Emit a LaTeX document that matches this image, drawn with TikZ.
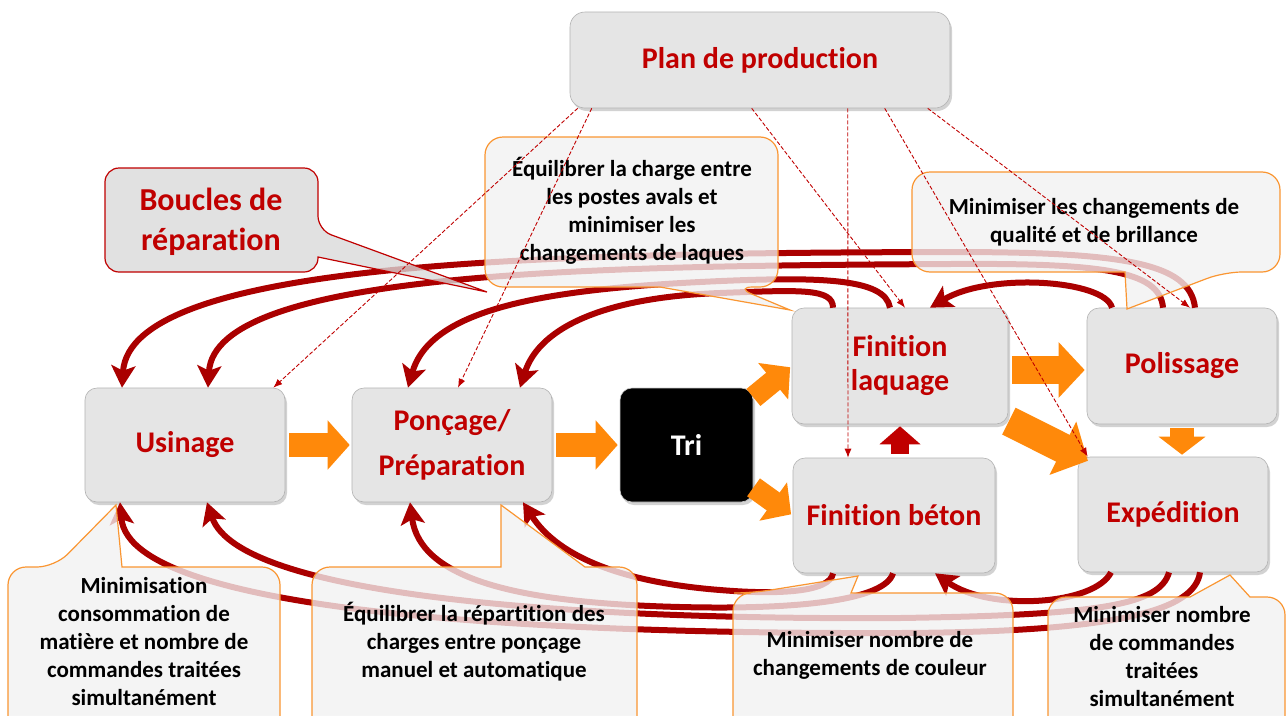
\documentclass[tikz,border=0pt]{standalone}
\usepackage{fontspec}
\setmainfont{Carlito}[Ligatures=NoCommon]
\usetikzlibrary{arrows.meta,calc,shadows}
\definecolor{boxred}{RGB}{192,0,0}
\definecolor{repairred}{RGB}{170,0,0}
\definecolor{fatorange}{RGB}{255,137,10}
\definecolor{boxgray}{RGB}{229,229,229}
\definecolor{notegray}{RGB}{242,242,242}
\definecolor{noteline}{RGB}{250,150,50}
\definecolor{tagfill}{RGB}{217,217,217}
\begin{document}
\begin{tikzpicture}[x=1pt,y=-1pt]
	\tikzstyle{stage}=[rounded corners=12pt, fill=boxgray, draw=gray!60, line width=0.6pt,
		drop shadow={opacity=0.35, shadow xshift=2pt, shadow yshift=-3pt},
		text=boxred, font=\fontsize{30}{34}\selectfont\bfseries, align=center, inner sep=0pt,
		minimum width=200pt, minimum height=114pt]
	\tikzstyle{fat}=[draw=fatorange, line width=24pt, -{Triangle[length=22pt,width=48pt]}, shorten <=4pt, shorten >=2pt]
	\tikzstyle{repair}=[draw=repairred, line width=6pt, -{Stealth[length=22pt,width=24pt,inset=5pt]}]
	\tikzstyle{planarrow}=[draw=boxred, dash pattern=on 4pt off 2pt, line width=0.9pt, -{Latex[length=9pt,width=7pt]}]
	\tikzstyle{note}=[fill=notegray, fill opacity=0.78, draw=noteline, line width=1.2pt]
	\tikzstyle{notetext}=[align=center, font=\fontsize{23}{28}\selectfont\bfseries, inner sep=0pt]
	\useasboundingbox (0,0) rectangle (1287,715);
	\clip (0,0) rectangle (1287,715);
	\fill[white] (0,0) rectangle (1287,715);

	% postes
	\node[stage, minimum width=380pt, minimum height=96pt, rounded corners=15pt] (plan) at (760,60) {Plan de production};
	\node[stage] (us) at (185,445) {Usinage};
	\node[stage] (po) at (452,445) {Ponçage/\\[11pt]Préparation};
	\node[stage, fill=black, draw=gray!40, text=white, minimum width=133pt] (tri) at (686.5,445) {Tri};
	\node[stage, minimum width=216pt, minimum height=116pt] (fl) at (900,366) {Finition\\laquage};
	\node[stage, minimum width=202pt, minimum height=115pt] (fb) at (894,515.5) {Finition béton};
	\node[stage, minimum width=190pt, minimum height=116pt] (pol) at (1182,366) {Polissage};
	\node[stage, minimum width=190pt, minimum height=115pt] (exp) at (1173,514.5) {Expédition};

	% flux
	\draw[fat] (us.east) -- (po.west);
	\draw[fat] (po.west -| po.east) -- (tri.west);
	\draw[fat, line width=22pt, -{Triangle[length=22pt,width=46pt]}] ($(tri.east)+(-3,-45)$) -- (fl.west);
	\draw[fat, line width=22pt, -{Triangle[length=22pt,width=46pt]}] ($(tri.east)+(-3,40)$) -- (fb.west);
	\draw[fat, line width=28pt, -{Triangle[length=26pt,width=54pt]}] ($(fl.east)+(0,4)$) -- ($(pol.west)+(0,4)$);
	\draw[fat, line width=30pt, -{Triangle[length=28pt,width=58pt]}] ($(fl.south east)+(-3,-5)$) -- ($(exp.north west)+(12,5)$);
	\draw[fat, line width=24pt, -{Triangle[length=18pt,width=46pt]}] (pol.south) -- ($(exp.north)+(9,0)$);
	\draw[fat, draw=boxred, line width=18pt, -{Triangle[length=18pt,width=40pt]}] ($(fb.north)+(6,0)$) -- (fl.south);

	% boucles de reparation
	\draw[repair] ($(fl.north)+(-67,0)$) .. controls (833,288) and (800,290) .. (720,293)
		.. controls (610,297) and (540,325) .. ($(po.north)+(68,0)$);
	\draw[repair] ($(fl.north)+(-10,0)$) .. controls (885,278) and (820,276) .. (700,282)
		.. controls (540,290) and (430,310) .. ($(po.north)+(-44,0)$);
	\draw[repair] ($(pol.north)+(-70,0)$) .. controls (1105,280) and (990,272) .. ($(fl.north)+(30,0)$);
	\draw[repair] ($(pol.north)+(-19,0)$) .. controls (1160,270) and (1100,263) .. (950,264)
		.. controls (600,266) and (215,270) .. ($(us.north)+(23,0)$);
	\draw[repair] ($(pol.north)+(13,0)$) .. controls (1190,262) and (1120,252) .. (950,252)
		.. controls (550,253) and (130,260) .. ($(us.north)+(-63,0)$);
	\draw[repair] ($(fb.south)+(-1,0)$) .. controls (885,600) and (800,610) .. (680,607)
		.. controls (520,603) and (420,580) .. ($(po.south)+(-42,0)$);
	\draw[repair] ($(fb.south)+(-61,0)$) .. controls (830,592) and (780,595) .. (720,590)
		.. controls (630,583) and (560,560) .. ($(po.south)+(71,0)$);
	\draw[repair] ($(exp.south)+(-62,0)$) .. controls (1095,605) and (990,612) .. ($(fb.south)+(41,0)$);
	\draw[repair] ($(exp.south)+(-4,0)$) .. controls (1160,605) and (1100,615) .. (900,618)
		.. controls (600,620) and (240,600) .. ($(us.south)+(22,0)$);
	\draw[repair] ($(exp.south)+(27,0)$) .. controls (1195,610) and (1120,632) .. (900,633)
		.. controls (600,634) and (130,620) .. ($(us.south)+(-65,0)$);

	% bulles
	\path[note] (630,137) [rounded corners=18pt] -- (778,137) -- (778,287) -- (735,287) [sharp corners] -- (790,310)
		-- (660,287) [rounded corners=18pt] -- (485,287) -- (485,137) -- cycle;
	\path[note] (1096,172) [rounded corners=18pt] -- (1280,172) -- (1280,272) -- (1224,272) [sharp corners] -- (1127,309)
		-- (1125,272) [rounded corners=18pt] -- (912,272) -- (912,172) -- cycle;
	\path[note, fill=tagfill, draw=boxred] (211,168) [rounded corners=14pt] -- (318,168) -- (318,230) [sharp corners] -- (487,292)
		-- (318,257) [rounded corners=14pt] -- (318,272) -- (105,272) -- (105,168) -- cycle;
	\path[note] (144,567) [rounded corners=18pt] -- (280,567) -- (280,740) -- (8,740) -- (8,567) -- (55,567) [sharp corners]
		-- (116,505) -- (122,567) -- cycle;
	\path[note] (400,567) -- (501,567) [sharp corners] -- (501,505) -- (585,567) [rounded corners=18pt] -- (637,567)
		-- (637,740) -- (312,740) -- (312,567) -- cycle;
	\path[note] (930,593) [rounded corners=18pt] -- (1013,593) -- (1013,740) -- (733,740) -- (733,593) -- (752,593) [sharp corners]
		-- (858,576) -- (851,593) -- cycle;
	\path[note] (1100,597) -- (1190,597) [sharp corners] -- (1230,575) -- (1250,597) [rounded corners=18pt] -- (1285,597)
		-- (1285,740) -- (1048,740) -- (1048,597) -- cycle;

	\node[notetext] (tT) at (632,211) {Équilibrer la charge entre\\les postes avals et\\minimiser les\\changements de laques};
	\node[notetext] (tR) at (1094,222) {Minimiser les changements de\\qualité et de brillance};
	\node[notetext, text=boxred, font=\fontsize{32}{40}\selectfont\bfseries] (tB) at (211,222) {Boucles de\\réparation};
	\node[notetext] (tL) at (144,642) {Minimisation\\consommation de\\matière et nombre de\\commandes traitées\\simultanément};
	\node[notetext] (tM) at (474,642) {Équilibrer la répartition des\\charges entre ponçage\\manuel et automatique};
	\node[notetext] (tF) at (870,655) {Minimiser nombre de\\changements de couleur};
	\node[notetext] (tE) at (1162,657) {Minimiser nombre\\de commandes\\traitées\\simultanément};

	% plan de production
	\draw[planarrow] ($(plan.south west)+(8,0)$) -- ($(us.north east)+(-12,0)$);
	\draw[planarrow] ($(plan.south west)+(22,0)$) -- ($(po.north)+(6,0)$);
	\draw[planarrow] ($(plan.south west)+(182,0)$) -- ($(fl.north)+(5,0)$);
	\draw[planarrow] ($(plan.south west)+(278,0)$) -- ($(fb.north)+(-46,0)$);
	\draw[planarrow] ($(plan.south west)+(315,0)$) -- ($(exp.north west)+(10,0)$);
	\draw[planarrow] ($(plan.south west)+(358,0)$) -- ($(pol.north)+(8,0)$);
\end{tikzpicture}
\end{document}
